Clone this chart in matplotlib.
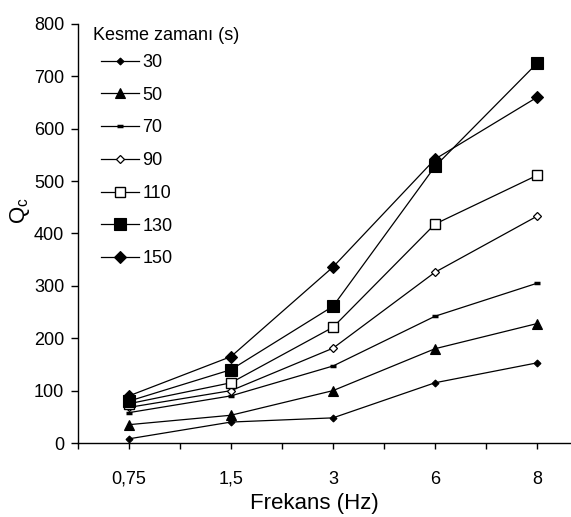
import matplotlib
matplotlib.use("Agg")
import matplotlib.pyplot as plt

plt.rcParams['font.family'] = ['Liberation Sans', 'DejaVu Sans']
plt.rcParams['mathtext.fontset'] = 'custom'
plt.rcParams['mathtext.rm'] = 'Liberation Sans'
plt.rcParams['mathtext.it'] = 'Liberation Sans'

categories = ["0,75", "1,5", "3", "6", "8"]
series_labels = ["30", "50", "70", "90", "110", "130", "150"]
s30 = [8, 40, 48, 115, 153]
s50 = [35, 53, 100, 180, 228]
s70 = [58, 90, 147, 242, 305]
s90 = [68, 100, 181, 326, 433]
s110 = [75, 115, 221, 418, 511]
s130 = [80, 140, 261, 528, 725]
s150 = [90, 165, 336, 542, 660]
yticks = [0, 100, 200, 300, 400, 500, 600, 700, 800]

series = [s30, s50, s70, s90, s110, s130, s150]
styles = [
    dict(marker='D', ms=3.5, mfc='black', mec='black', mew=0.8),
    dict(marker='^', ms=7, mfc='black', mec='black', mew=0.8),
    dict(marker='_', ms=5, mfc='black', mec='black', mew=2.5),
    dict(marker='D', ms=4.5, mfc='white', mec='black', mew=0.9),
    dict(marker='s', ms=7.5, mfc='white', mec='black', mew=1.0),
    dict(marker='s', ms=9, mfc='black', mec='black', mew=0.8),
    dict(marker='D', ms=6.5, mfc='black', mec='black', mew=0.8),
]

W, H = 571, 517
fig = plt.figure(figsize=(W / 100, H / 100), dpi=100)
fig.patch.set_facecolor('white')
ax = fig.add_axes([78 / W, (H - 443) / H, 510 / W, 419 / H])

x = list(range(len(categories)))
handles = []
for vals, lab, st in zip(series, series_labels, styles):
    h, = ax.plot(x, vals, color='black', lw=0.9, label=lab, **st)
    handles.append(h)

ax.set_xlim(-0.5, 4.5)
ax.set_ylim(0, 800)
ax.set_yticks(yticks)
ax.set_xticks(x)
ax.set_xticklabels(categories)
ax.set_xticks([i - 0.5 for i in range(6)], minor=True)
for s in ['top', 'right']:
    ax.spines[s].set_visible(False)
for s in ['left', 'bottom']:
    ax.spines[s].set_linewidth(1.0)
ax.tick_params(axis='y', direction='out', length=5, width=1, labelsize=13, pad=5)
ax.tick_params(axis='x', which='both', direction='out', length=4, width=1, labelsize=13, pad=16)

fig.text(314 / W, 1 - 503 / H, "Frekans (Hz)", fontsize=16, ha='center', va='center')
fig.text(20 / W, 1 - 211 / H, r"Q$_\mathrm{c}$", fontsize=16, ha='center', va='center', rotation=90)
fig.text(93 / W, 1 - 36 / H, "Kesme zamanı (s)", fontsize=13, ha='left', va='center')

leg = ax.legend(handles=handles, loc='upper left', bbox_to_anchor=(101 / W, 1 - 54 / H),
                bbox_transform=fig.transFigure, frameon=False, fontsize=13,
                borderpad=0, borderaxespad=0, handlelength=2.1, handletextpad=0.2,
                labelspacing=0.87)

fig.savefig("out.png", dpi=100, facecolor='white')
